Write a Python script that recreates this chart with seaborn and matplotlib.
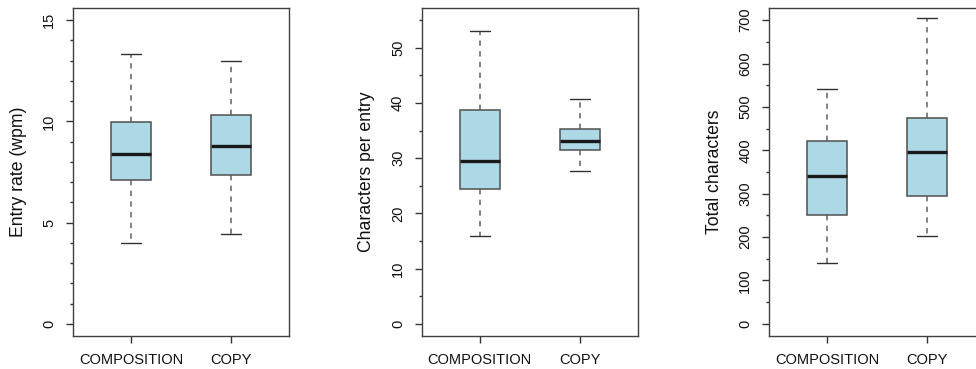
import numpy as np
import pandas as pd
import matplotlib
matplotlib.use("Agg")
import matplotlib.pyplot as plt
import seaborn as sns
from matplotlib.ticker import MultipleLocator

# five-number summaries: low whisker, Q1, median, Q3, high whisker
grupos = ["COMPOSITION", "COPY"]

entry_rate_comp = [3.99, 7.10, 8.41, 9.96, 13.33]
entry_rate_copy = [4.43, 7.37, 8.80, 10.30, 12.99]

chars_entry_comp = [16.0, 24.4, 29.5, 38.7, 53.0]
chars_entry_copy = [27.6, 31.5, 33.1, 35.3, 40.8]

total_chars_comp = [140, 251, 340, 422, 541]
total_chars_copy = [202, 295, 397, 474, 705]

paineis = [
    ("Entry rate (wpm)", entry_rate_comp, entry_rate_copy, 15, 5, 1),
    ("Characters per entry", chars_entry_comp, chars_entry_copy, 55, 10, 5),
    ("Total characters", total_chars_comp, total_chars_copy, 700, 100, 50),
]

sns.set_style("ticks")
plt.rcParams["font.family"] = ["Liberation Sans", "DejaVu Sans"]
plt.rcParams["text.color"] = "#111111"

fig = plt.figure(figsize=(9.76, 3.69), dpi=100)
esquerdas = [73, 421.7, 769]
cor_borda = "#505050"

for esq, (rotulo, comp, copy, ymax, passo_maior, passo_menor) in zip(esquerdas, paineis):
    ax = fig.add_axes([esq / 976, 33 / 369, 216 / 976, 328 / 369])
    df = pd.DataFrame({
        "grupo": [grupos[0]] * len(comp) + [grupos[1]] * len(copy),
        "valor": comp + copy,
    })
    sns.boxplot(
        data=df, x="grupo", y="valor", ax=ax,
        color="#ADD8E6", saturation=1, width=0.4, whis=(0, 100),
        showfliers=False, linecolor=cor_borda, linewidth=1.1,
        boxprops=dict(edgecolor=cor_borda, linewidth=1.1),
        whiskerprops=dict(color="#606060", linestyle=(0, (3.5, 3.5)), linewidth=1.1),
        capprops=dict(color="#303030", linewidth=1.0),
        medianprops=dict(color="#1a1a1a", linewidth=2.4),
    )
    pad = ymax * 0.04
    ax.set_ylim(-pad, ymax + pad)
    ax.set_xlim(-0.58, 1.58)
    ax.yaxis.set_major_locator(MultipleLocator(passo_maior))
    ax.yaxis.set_minor_locator(MultipleLocator(passo_menor))
    ax.set_xlabel("")
    ax.set_ylabel(rotulo, fontsize=12.7, color="#111111")
    ax.yaxis.set_label_coords(-0.215, 0.5)
    ax.tick_params(axis="y", which="major", length=5, width=1, pad=7,
                   labelsize=10.5, labelrotation=90, colors="#333333",
                   labelcolor="#111111")
    ax.tick_params(axis="y", which="minor", length=2.5, width=1, colors="#333333")
    ax.tick_params(axis="x", length=5, width=1, pad=7, labelsize=10.5,
                   colors="#333333", labelcolor="#111111")
    for lbl in ax.get_yticklabels():
        lbl.set_va("center")
    for s in ax.spines.values():
        s.set_visible(True)
        s.set_color("#404040")
        s.set_linewidth(1.0)

fig.savefig("out.png", dpi=100)
